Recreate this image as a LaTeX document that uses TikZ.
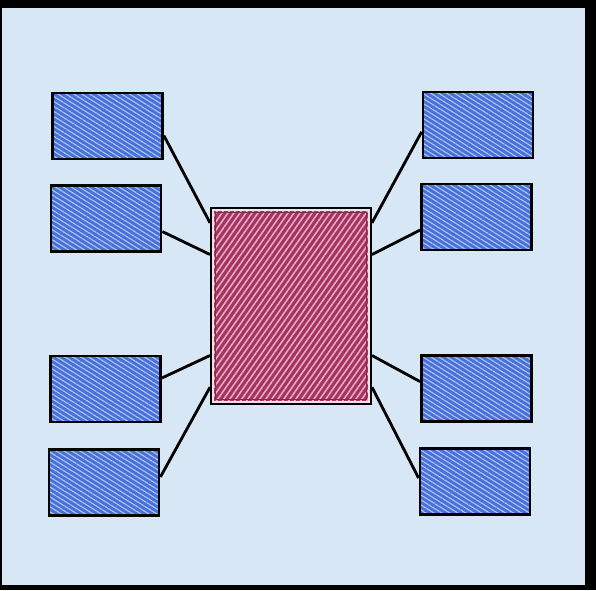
\documentclass[tikz,border=0pt]{standalone}
\usetikzlibrary{calc,patterns.meta}
\definecolor{fond}{RGB}{216,231,246}
\definecolor{bleu}{RGB}{72,112,218}
\definecolor{bleuclair}{RGB}{175,198,242}
\definecolor{bordeaux}{RGB}{165,50,95}
\definecolor{rose}{RGB}{230,172,196}
\begin{document}
\begin{tikzpicture}[x=0.05cm, y=-0.05cm,
  petit/.style={draw=black, line width=4pt, inner sep=0pt,
    minimum width=5.5cm, minimum height=3.3cm,
    preaction={fill=bleu},
    preaction={pattern={Lines[angle=-32,distance=6pt,line width=1.6pt]}, pattern color=bleuclair}},
  central/.style={draw=black, line width=2.8pt, inner sep=0pt,
    minimum width=8cm, minimum height=9.8cm,
    preaction={fill=bordeaux},
    preaction={pattern={Lines[angle=55,distance=7pt,line width=2.2pt]}, pattern color=rose}},
  lien/.style={draw=black, line width=4pt}]
  % Cadre et fond
  \fill[black] (0,0) rectangle (596,590);
  \fill[fond] (2,8) rectangle (585,585);

  % Bloc central
  \node[central] (C) at (291,306) {};
  \draw[white!85!bordeaux, line width=2.6pt] ([shift={(3,3)}]C.north west) rectangle ([shift={(-3,-3)}]C.south east);
  \draw[bordeaux!80!black, line width=1.8pt] ([shift={(5.5,5.5)}]C.north west) rectangle ([shift={(-5.5,-5.5)}]C.south east);

  % Blocs lat'eraux
  \foreach \n/\x/\y in {
    L1/107.5/126, L2/106/218.5, L3/105.5/389, L4/104/482.5,
    R1/478/125, R2/476.5/217, R3/476.5/388.5, R4/475/481.5} {
    \node[petit] (\n) at (\x,\y) {};
  }

  % Liaisons
  \foreach \n/\a/\b in {L1/0.64/0.08, L2/0.69/0.24, L3/0.34/0.75, L4/0.42/0.91} {
    \draw[lien] ($(\n.north east)!\a!(\n.south east)$) -- ($(C.north west)!\b!(C.south west)$);
  }
  \foreach \n/\a/\b in {R1/0.6/0.08, R2/0.69/0.24, R3/0.4/0.75, R4/0.45/0.91} {
    \draw[lien] ($(\n.north west)!\a!(\n.south west)$) -- ($(C.north east)!\b!(C.south east)$);
  }
\end{tikzpicture}
\end{document}
